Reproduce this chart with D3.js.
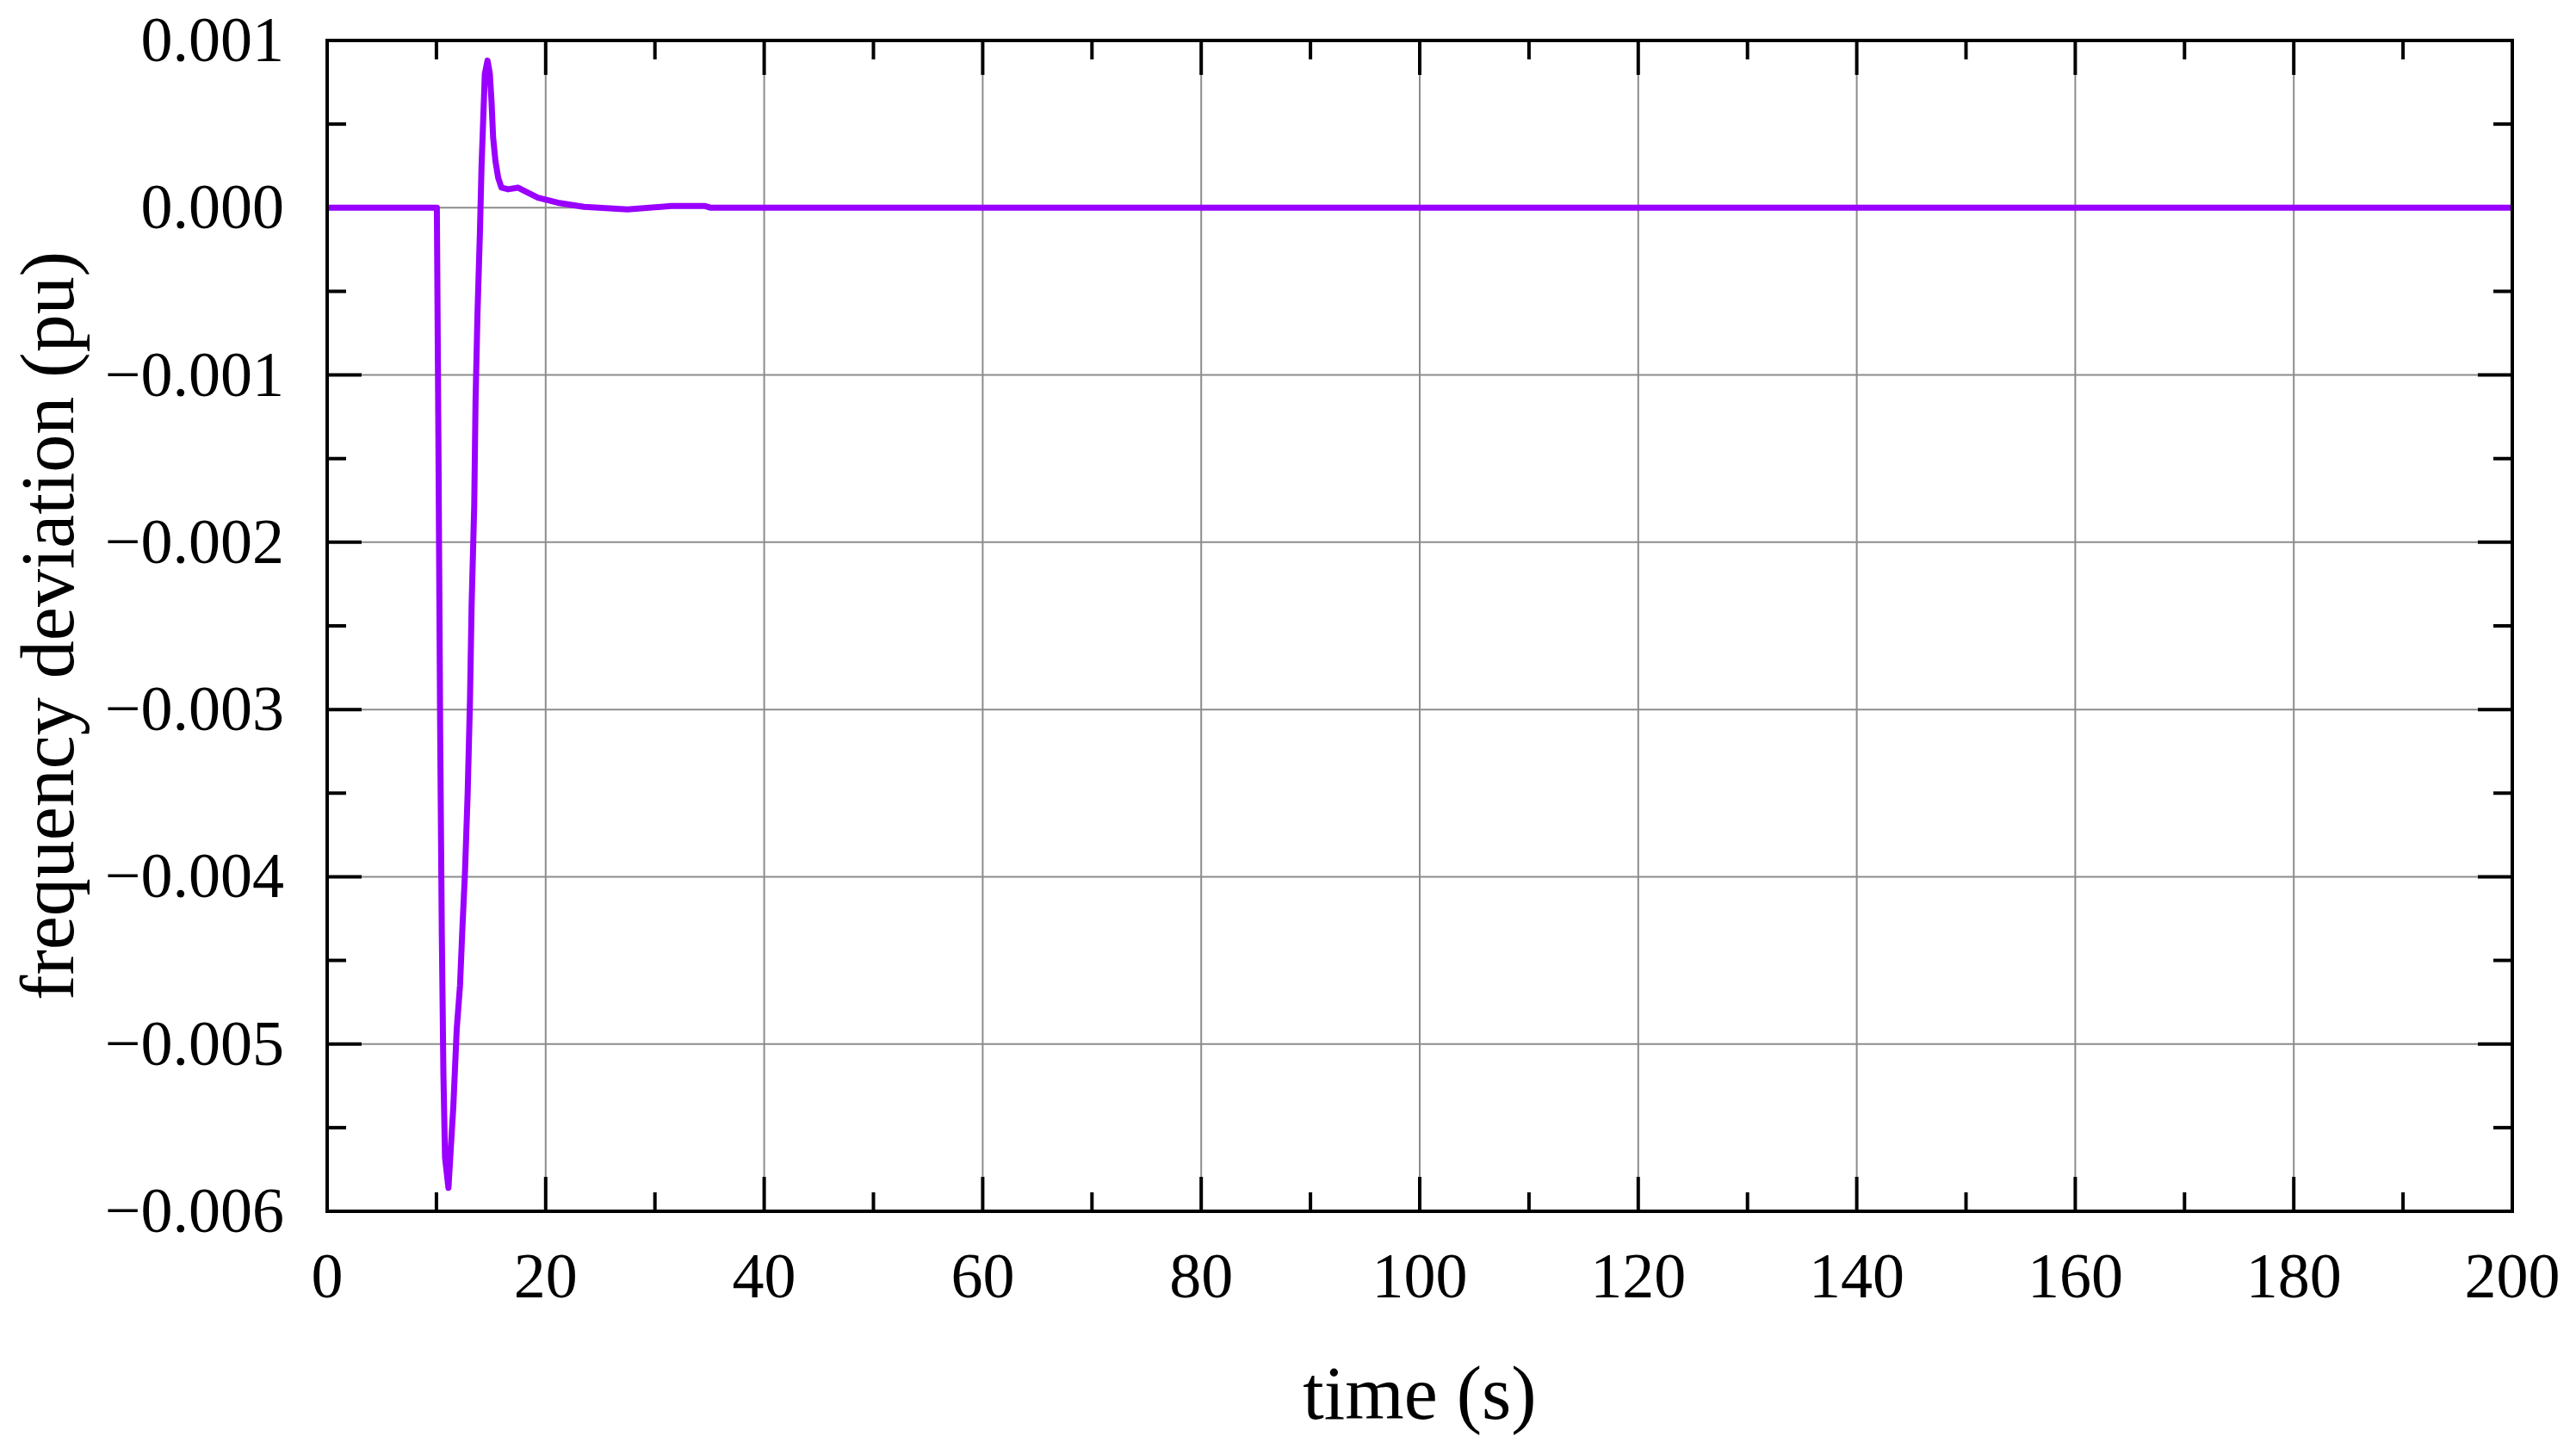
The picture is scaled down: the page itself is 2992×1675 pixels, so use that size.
<!DOCTYPE html>
<html><head><meta charset="utf-8">
<script src="https://cdn.jsdelivr.net/npm/d3@7"></script>
<style>html,body{margin:0;background:#fff}</style>
</head><body>
<svg id="c" width="2992" height="1675"></svg>
<script>
const times = [0,10,10.04,10.19,10.34,10.49,10.64,10.79,11.10,11.55,11.86,12.16,12.37,12.61,12.86,13.07,13.22,13.46,13.58,13.76,13.98,14.13,14.29,14.43,14.68,14.89,15.04,15.19,15.40,15.65,15.95,16.56,17.46,18.07,19.29,21.1,23.5,27.5,31.5,34.6,35.1,200];
const values = [0,0,0,-1.47,-3.10,-4.32,-5.18,-5.68,-5.86,-5.37,-4.91,-4.65,-4.32,-3.98,-3.50,-2.95,-2.38,-1.78,-1.16,-0.63,-0.15,0.25,0.54,0.80,0.88,0.80,0.64,0.42,0.28,0.18,0.12,0.11,0.12,0.10,0.06,0.03,0.005,-0.01,0.01,0.01,0,0].map(v=>v*1e-3);
const xTicks = d3.range(0,201,20);
const yTicks = [0.001,0,-0.001,-0.002,-0.003,-0.004,-0.005,-0.006];
const fmtY = d => (d<0?"\u2212":"")+Math.abs(d).toFixed(3);

const L=380,R=2918,T=47,B=1407;
const svg=d3.select("#c");
const x=d3.scaleLinear().domain([0,200]).range([L,R]);
const y=d3.scaleLinear().domain([-0.006,0.001]).range([B,T]);
const font="'Liberation Serif','Times New Roman',serif";

svg.append("g").selectAll("line").data(xTicks.slice(1,-1)).join("line")
 .attr("x1",d=>x(d)).attr("x2",d=>x(d)).attr("y1",T).attr("y2",B).attr("stroke","#8c8c8c").attr("stroke-width",2);
svg.append("g").selectAll("line").data(yTicks.slice(1,-1)).join("line")
 .attr("y1",d=>y(d)).attr("y2",d=>y(d)).attr("x1",L).attr("x2",R).attr("stroke","#8c8c8c").attr("stroke-width",2);

const tk=svg.append("g").attr("stroke","#000").attr("stroke-width",4);
d3.range(0,201,10).forEach(v=>{const len=v%20===0?40:22;
 tk.append("line").attr("x1",x(v)).attr("x2",x(v)).attr("y1",B).attr("y2",B-len);
 tk.append("line").attr("x1",x(v)).attr("x2",x(v)).attr("y1",T).attr("y2",T+len);});
d3.range(-12,3).forEach(i=>{const v=i*0.0005;const len=i%2===0?40:22;
 tk.append("line").attr("y1",y(v)).attr("y2",y(v)).attr("x1",L).attr("x2",L+len);
 tk.append("line").attr("y1",y(v)).attr("y2",y(v)).attr("x1",R).attr("x2",R-len);});

svg.append("path").datum(times.map((t,i)=>[t,values[i]]))
 .attr("d",d3.line().x(d=>x(d[0])).y(d=>y(d[1])))
 .attr("fill","none").attr("stroke","#9900ff").attr("stroke-width",7).attr("stroke-linejoin","round");

svg.append("rect").attr("x",L).attr("y",T).attr("width",R-L).attr("height",B-T)
 .attr("fill","none").attr("stroke","#000").attr("stroke-width",4);

svg.append("g").selectAll("text").data(xTicks).join("text")
 .attr("x",d=>x(d)).attr("y",1507).attr("text-anchor","middle")
 .attr("font-family",font).attr("font-size",74).text(d=>d);
svg.append("g").selectAll("text").data(yTicks).join("text")
 .attr("x",330).attr("y",d=>y(d)+24).attr("text-anchor","end")
 .attr("font-family",font).attr("font-size",74).text(fmtY);
svg.append("text").attr("x",(L+R)/2).attr("y",1648).attr("text-anchor","middle")
 .attr("font-family",font).attr("font-size",88).text("time (s)");
svg.append("text").attr("transform","translate(85,727) rotate(-90)").attr("text-anchor","middle")
 .attr("font-family",font).attr("font-size",88).text("frequency deviation (pu)");
</script>
</body></html>
